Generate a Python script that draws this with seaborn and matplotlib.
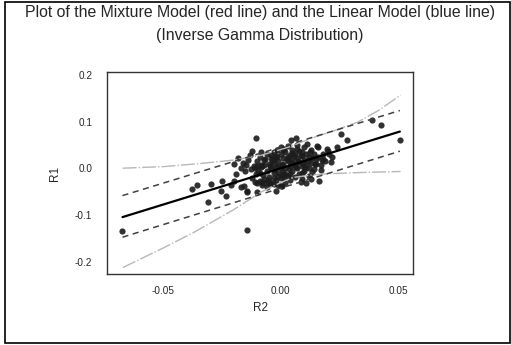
import matplotlib
matplotlib.use("Agg")
import matplotlib.pyplot as plt
import matplotlib.patches as mpatches
import seaborn as sns
import pandas as pd

# scatter points (R2, R1)
r2 = [-0.0674, -0.0142, -0.0107, -0.0376, -0.0355, -0.0298, -0.0308, -0.0248, -0.0256, -0.0234,
      -0.0199, -0.0192, -0.0199, -0.0170, -0.0149, -0.0142, -0.0099, -0.0085, -0.0021, -0.0029,
      0.0391, 0.0426, 0.0256, 0.0507, 0.0284, 0.0163, 0.0085, 0.0007, 0.0213, 0.0205,
      0.0170, 0.0135, -0.0213, -0.0156, -0.0142, 0.0000, 0.0064, 0.0043, 0.0114, 0.0156,
      -0.0085, -0.0014, 0.0014, -0.0043, 0.0199,
      -0.012, -0.011, -0.010, -0.010, -0.009, -0.009, -0.008, -0.008, -0.007, -0.007,
      -0.006, -0.006, -0.006, -0.005, -0.005, -0.004, -0.004, -0.004, -0.003, -0.003,
      -0.003, -0.002, -0.002, -0.002, -0.001, -0.001, -0.001, 0.000, 0.000, 0.000,
      0.000, 0.001, 0.001, 0.001, 0.002, 0.002, 0.002, 0.003, 0.003, 0.003,
      0.004, 0.004, 0.004, 0.005, 0.005, 0.005, 0.006, 0.006, 0.006, 0.007,
      0.007, 0.007, 0.008, 0.008, 0.008, 0.009, 0.009, 0.009, 0.010, 0.010,
      0.010, 0.011, 0.011, 0.012, 0.012, 0.013, 0.013, 0.014, 0.014, 0.015,
      0.016, 0.017, 0.018, 0.019, 0.020, 0.022, 0.024, 0.011, 0.013, -0.013,
      -0.014, -0.012, -0.015, -0.016, -0.017, -0.018, -0.011, -0.008, -0.005, 0.002,
      0.004, 0.006, 0.009, -0.003, 0.001, 0.012, -0.007, 0.015, 0.018, -0.010,
      -0.0095, -0.0085, -0.0075, -0.0065, -0.0055, -0.0045, -0.0035, -0.0025, -0.0015, -0.0005,
      0.0005, 0.0015, 0.0025, 0.0035, 0.0045, 0.0055, 0.0065, 0.0075, 0.0085, 0.0095,
      -0.0090, -0.0070, -0.0050, -0.0030, -0.0010, 0.0010, 0.0030, 0.0050, 0.0070, 0.0090,
      0.0105, 0.0115, 0.0125, 0.0135, 0.0145, -0.0105, -0.0115, -0.0125, 0.0160, 0.0175]
r1 = [-0.134, -0.131, 0.0657, -0.0435, -0.0343, -0.0328, -0.0722, -0.0257, -0.0471, -0.0578,
      0.0101, -0.0113, -0.0257, -0.040, 0.0064, -0.0471, -0.0507, 0.0349, -0.0471, -0.0328,
      0.1028, 0.092, 0.0728, 0.060, 0.060, -0.0257, -0.029, -0.0385, 0.0135, 0.032,
      -0.004, -0.008, -0.036, -0.0385, -0.0507, -0.0364, 0.0649, 0.060, 0.0528, 0.049,
      0.003, 0.0385, 0.042, 0.028, 0.042,
      -0.020, 0.000, -0.030, 0.015, -0.010, 0.025, -0.035, 0.005, -0.022, 0.018,
      -0.005, 0.030, -0.040, 0.010, -0.018, 0.000, 0.022, -0.030, -0.010, 0.035,
      0.012, -0.025, 0.004, 0.026, -0.015, 0.015, -0.035, 0.000, 0.030, -0.020,
      0.045, 0.010, -0.008, 0.022, -0.030, 0.000, 0.036, 0.015, -0.015, 0.048,
      0.005, 0.028, -0.025, -0.005, 0.040, 0.018, 0.010, -0.018, 0.032, 0.000,
      0.050, 0.022, -0.012, 0.014, 0.038, 0.005, 0.027, -0.022, 0.018, 0.045,
      -0.005, 0.032, 0.008, 0.024, -0.015, 0.040, 0.012, 0.030, -0.002, 0.020,
      0.045, 0.008, 0.030, 0.015, 0.038, 0.025, 0.046, -0.030, -0.022, 0.028,
      0.018, 0.038, -0.005, 0.012, 0.000, 0.022, -0.028, -0.028, -0.028, -0.012,
      -0.012, 0.005, -0.010, 0.020, 0.040, 0.002, 0.008, 0.010, 0.020, 0.005,
      -0.006, 0.008, -0.014, 0.020, -0.024, 0.006, 0.016, -0.004, 0.024, -0.010,
      0.008, -0.020, 0.020, -0.002, 0.014, 0.026, 0.004, 0.016, 0.028, 0.010,
      -0.026, -0.030, -0.032, -0.020, 0.006, -0.014, 0.024, 0.034, 0.042, 0.036,
      0.002, 0.016, 0.036, 0.022, 0.010, -0.012, 0.006, -0.002, 0.024, 0.018]

# fitted line and bands
fit_x = [-0.0674, 0.0508]
fit_y = [-0.104, 0.079]
dash_up_y = [-0.058, 0.124]
dash_lo_y = [-0.147, 0.037]
band_up_x = [-0.0673, -0.050, -0.0341, -0.020, -0.0085, 0.003, 0.0141, 0.0235, 0.0328, 0.042, 0.0511]
band_up_y = [0.0006, 0.004, 0.0107, 0.018, 0.028, 0.045, 0.0664, 0.082, 0.0991, 0.125, 0.157]
band_lo_x = [-0.0673, -0.050, -0.0371, -0.020, -0.0085, 0.000, 0.0055, 0.013, 0.0213, 0.0341, 0.0511]
band_lo_y = [-0.212, -0.170, -0.137, -0.088, -0.051, -0.030, -0.019, -0.014, -0.011, -0.0086, -0.0064]

sns.set_style("white")
plt.rcParams['font.family'] = ['Liberation Sans', 'DejaVu Sans']
plt.rcParams['axes.unicode_minus'] = False

fig = plt.figure(figsize=(5.11, 3.45), dpi=100)
ax = fig.add_axes([107/511, 1-274/345, 306/511, 202/345])

sns.lineplot(x=band_up_x, y=band_up_y, ax=ax, color="#b8b8b8", lw=1, linestyle=(0, (10, 1.5, 1, 1.5)), sort=False)
sns.lineplot(x=band_lo_x, y=band_lo_y, ax=ax, color="#b8b8b8", lw=1, linestyle=(0, (10, 1.5, 1, 1.5)), sort=False)
sns.lineplot(x=fit_x, y=dash_up_y, ax=ax, color="#404040", lw=1.1, linestyle=(0, (4, 3)))
sns.lineplot(x=fit_x, y=dash_lo_y, ax=ax, color="#404040", lw=1.1, linestyle=(0, (4, 3)))
pts = pd.DataFrame({"R2": r2, "R1": r1})
sns.scatterplot(data=pts, x="R2", y="R1", ax=ax, color="#1c1c1c", s=20, linewidth=0, alpha=0.9)
sns.lineplot(x=fit_x, y=fit_y, ax=ax, color="black", lw=1.6)

ax.set_xlim(-0.074, 0.0564)
ax.set_ylim(-0.2257, 0.2064)
ax.set_xticks([-0.05, 0.0, 0.05])
ax.set_xticklabels(["-0.05", "0.00", "0.05"])
ax.set_yticks([-0.2, -0.1, 0.0, 0.1, 0.2])
ax.set_yticklabels(["-0.2", "-0.1", "0.0", "0.1", "0.2"])
ax.tick_params(direction="out", length=5, width=0.9, color="#333333", labelsize=7.2, pad=4)
ax.tick_params(axis="y", pad=5.5)
for s in ax.spines.values():
    s.set_color("#333333")
    s.set_linewidth(1.0)
ax.set_xlabel("R2", fontsize=8.5, labelpad=4)
ax.set_ylabel("R1", fontsize=8.5, labelpad=10)

fig.text(0.509, 0.965, "Plot of the Mixture Model (red line) and the Linear Model (blue line)",
         ha="center", va="center", fontsize=11.4)
fig.text(0.509, 0.896, "(Inverse Gamma Distribution)", ha="center", va="center", fontsize=11.4)
fig.patches.append(mpatches.Rectangle((5/511, 2/345), 505/511, 341/345, transform=fig.transFigure,
                                      fill=False, edgecolor="black", lw=1.2))

fig.savefig("out.png", dpi=100)
